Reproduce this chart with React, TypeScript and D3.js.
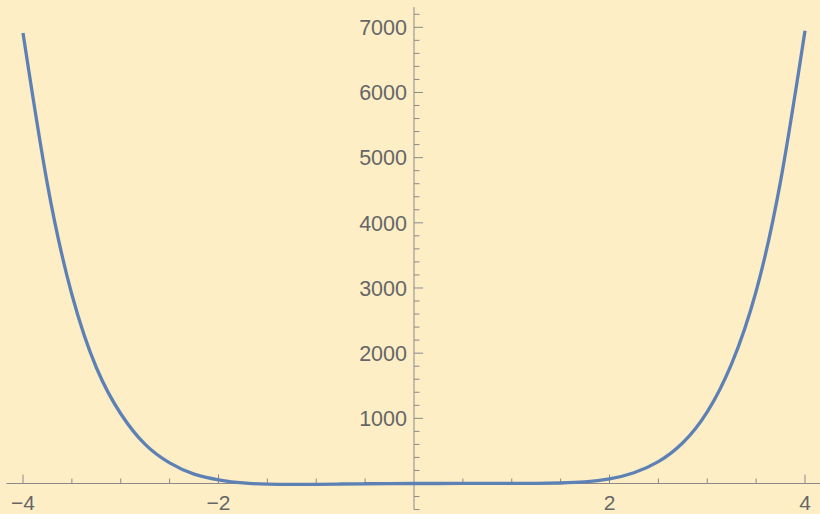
import React from "react";
import * as d3 from "d3";

const xValues = [-4, -3.75, -3.5, -3.25, -3, -2.75, -2.5, -2.25, -2, -1.75, -1.5, -1.25, -1, -0.75, -0.5, -0.25, 0, 0.25, 0.5, 0.75, 1, 1.25, 1.5, 1.75, 2, 2.25, 2.5, 2.75, 3, 3.25, 3.5, 3.75, 4];
const yValues = [6913, 4590, 2900, 1780, 1070, 600, 316, 144, 57, 8, -10, -14, -12, -8, -4, -1, 0, 0, 1, 1, 2, 3, 8, 24, 70, 165, 335, 625, 1100, 1840, 2950, 4640, 6948];
const xMajorTicks = [-4, -2, 2, 4];
const xTickLabels = ["\u22124", "\u22122", "2", "4"];
const xMinorTicks = [-3.5, -3, -2.5, -1.5, -1, -0.5, 0.5, 1, 1.5, 2.5, 3, 3.5];
const yMajorTicks = [1000, 2000, 3000, 4000, 5000, 6000, 7000];
const yMinorTicks = [-400, -200, 200, 400, 600, 800, 1200, 1400, 1600, 1800, 2200, 2400, 2600, 2800, 3200, 3400, 3600, 3800, 4200, 4400, 4600, 4800, 5200, 5400, 5600, 5800, 6200, 6400, 6600, 6800, 7200];

const W = 820;
const H = 514;

export default function App() {
  const x = d3.scaleLinear().domain([-4, 4]).range([23, 805]);
  const y = d3.scaleLinear().domain([0, 7000]).range([483.5, 27.3]);
  const pts = xValues.map((v, i) => [v, yValues[i]] as [number, number]);
  const line = d3
    .line<[number, number]>()
    .x((d) => x(d[0]))
    .y((d) => y(d[1]))
    .curve(d3.curveNatural);
  const axisColor = "#8a8a8a";
  const textColor = "#666666";
  const font = "'Liberation Sans', Arial, sans-serif";
  return (
    <svg width={W} height={H} style={{ position: "absolute", left: 0, top: 0, background: "#fdeec6" }}>
      <rect x={0} y={0} width={W} height={H} fill="#fdeec6" />
      <line x1={x(-4.17)} x2={W} y1={y(0)} y2={y(0)} stroke={axisColor} strokeWidth={1} />
      {xMajorTicks.map((t) => (
        <line key={"xM" + t} x1={x(t)} x2={x(t)} y1={y(0)} y2={y(0) - 9} stroke={axisColor} strokeWidth={1} />
      ))}
      {xMinorTicks.map((t) => (
        <line key={"xm" + t} x1={x(t)} x2={x(t)} y1={y(0)} y2={y(0) - 5} stroke={axisColor} strokeWidth={1} />
      ))}
      {xMajorTicks.map((t, i) => (
        <text key={"xl" + t} x={x(t)} y={510} textAnchor="middle" fontFamily={font} fontSize={21} fill={textColor}>
          {xTickLabels[i]}
        </text>
      ))}
      <line x1={x(0)} x2={x(0)} y1={y(7310)} y2={y(-400)} stroke={axisColor} strokeWidth={1} />
      {yMajorTicks.map((t) => (
        <line key={"yM" + t} x1={x(0)} x2={x(0) + 9} y1={y(t)} y2={y(t)} stroke={axisColor} strokeWidth={1} />
      ))}
      {yMinorTicks.map((t) => (
        <line key={"ym" + t} x1={x(0)} x2={x(0) + 5.5} y1={y(t)} y2={y(t)} stroke={axisColor} strokeWidth={1} />
      ))}
      {yMajorTicks.map((t) => (
        <text key={"yl" + t} x={x(0) - 7} y={y(t)} dy="0.36em" textAnchor="end" fontFamily={font} fontSize={21.5} fill={textColor}>
          {t}
        </text>
      ))}
      <path d={line(pts) || ""} fill="none" stroke="#5e81b5" strokeWidth={3.3} />
    </svg>
  );
}
